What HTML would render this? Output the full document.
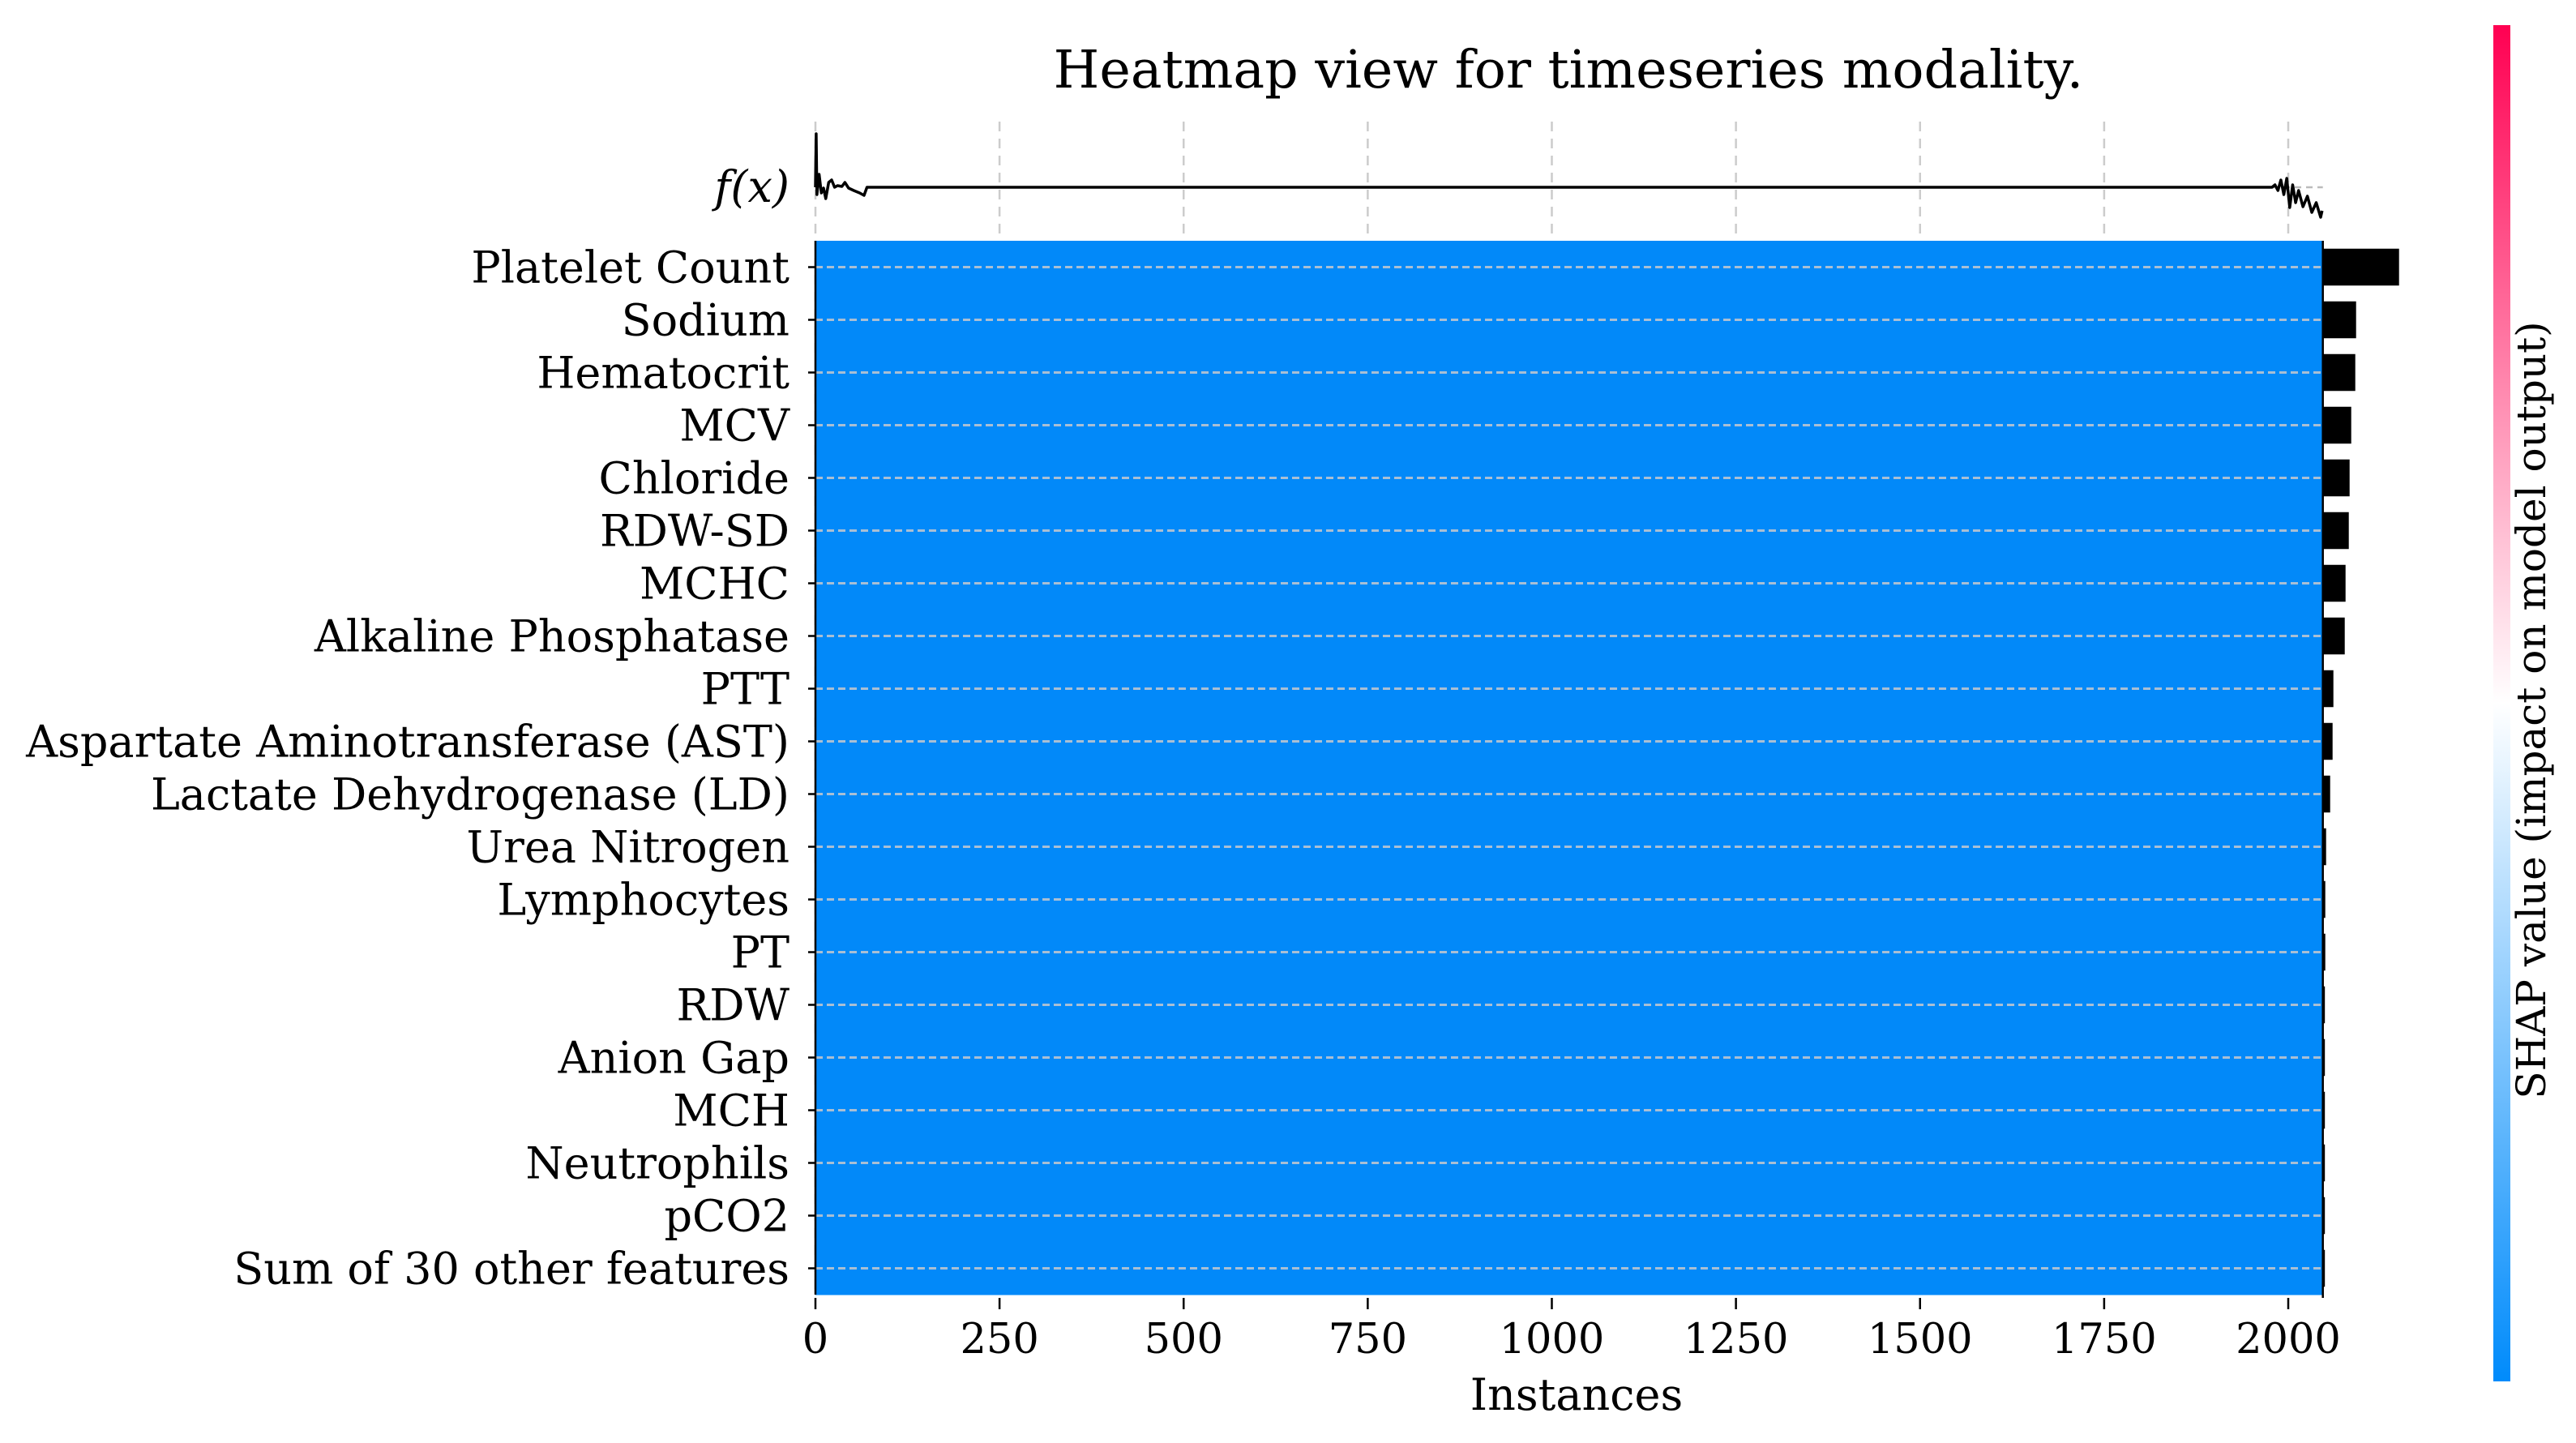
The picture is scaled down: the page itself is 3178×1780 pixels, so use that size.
<!DOCTYPE html>
<html><head><meta charset="utf-8"><style>
html,body{margin:0;padding:0;background:#fff;}
svg{display:block;}
text{font-family:"DejaVu Serif","Liberation Serif",serif;fill:#000;}
</style></head><body>
<svg id="chart" width="3178" height="1780" viewBox="0 0 3178 1780" xmlns="http://www.w3.org/2000/svg">
<defs>
<linearGradient id="cbgrad" x1="0" y1="0" x2="0" y2="1">
<stop offset="0" stop-color="#ff0052"/>
<stop offset="0.5" stop-color="#ffffff"/>
<stop offset="1" stop-color="#008bfb"/>
</linearGradient>
</defs>
<text x="1935" y="108" font-size="65" text-anchor="middle">Heatmap view for timeseries modality.</text>
<g id="grid"></g>
<g id="heat"></g>
<g id="rowgrid"></g>
<g id="fx"></g>
<g id="bars"></g>
<g id="axes"></g>
<rect x="3076" y="31" width="21" height="1673" fill="url(#cbgrad)"/>
<text transform="translate(3140,876) rotate(-90)" font-size="50" text-anchor="middle">SHAP value (impact on model output)</text>
</svg>
<script>
const features = ["Platelet Count","Sodium","Hematocrit","MCV","Chloride","RDW-SD","MCHC","Alkaline Phosphatase","PTT","Aspartate Aminotransferase (AST)","Lactate Dehydrogenase (LD)","Urea Nitrogen","Lymphocytes","PT","RDW","Anion Gap","MCH","Neutrophils","pCO2","Sum of 30 other features"];
const meanAbs = [0.094,0.041,0.040,0.035,0.033,0.032,0.028,0.027,0.013,0.012,0.009,0.004,0.003,0.003,0.0025,0.0025,0.0025,0.0025,0.0025,0.0025];
const heatVals = [0,0,0,0,0,0,0,0,0,0,0,0,0,0,0,0,0,0,0,0];
const xTicks = [0,250,500,750,1000,1250,1500,1750,2000];
const nInstances = 2047;
const fxIdx = [0,1,2,5,8,11,14,18,22,26,30,36,40,45,52,60,66,70,1978,1982,1986,1990,1994,1998,2002,2006,2010,2014,2020,2026,2032,2038,2044,2046];
const fxVal = [0,0.66,-0.09,0.16,-0.07,-0.01,-0.14,0.06,0.09,0,0.02,0.01,0.06,-0.01,-0.04,-0.07,-0.10,0,0,0.03,-0.04,0.09,-0.09,0.11,-0.25,0.03,-0.19,-0.04,-0.24,-0.11,-0.31,-0.19,-0.37,-0.29];

const NS='http://www.w3.org/2000/svg';
const X0=1006, PXI=0.9085, TOP=297, ROW=65, FXB=231, FXS=100, BARS=1000;
const xs = v => X0 + v*PXI;
const rowY = i => TOP + i*ROW;
const fy = v => FXB - v*FXS;
const bottom = TOP + features.length*ROW;
const xR = xs(nInstances);
function mk(tag, attrs, parent){const e=document.createElementNS(NS,tag);for(const k in attrs)e.setAttribute(k,attrs[k]);document.getElementById(parent).appendChild(e);return e;}
function heatColor(v){return v>0?'#ff0052':'#0289f9';}

xTicks.forEach(t=>{
  const l=mk('line',{x1:xs(t),x2:xs(t),y1:150,y2:bottom,stroke:'#cccccc','stroke-width':2.5,'stroke-dasharray':'12,9'},'grid');
  
  
});
features.forEach((f,i)=>{
  const r=mk('rect',{x:X0,y:rowY(i),width:xR-X0,height:ROW+0.5,fill:heatColor(heatVals[i])},'heat');
  
  
  const l=mk('line',{x1:X0,x2:xR,y1:rowY(i)+ROW/2,y2:rowY(i)+ROW/2,stroke:'#a9bfd4','stroke-width':3,'stroke-dasharray':'9,5'},'rowgrid');
  
  
  const t=mk('text',{x:974,y:rowY(i)+ROW/2+19,'font-size':54,'text-anchor':'end'},'axes');
  t.textContent=f;
  
  
  mk('line',{x1:997,x2:X0,y1:rowY(i)+ROW/2,y2:rowY(i)+ROW/2,stroke:'#000','stroke-width':2.5},'axes');
  const b=mk('rect',{x:xR,y:rowY(i)+ROW*0.15,width:meanAbs[i]*BARS,height:ROW*0.7,fill:'#000'},'bars');
  
  
});
const base=mk('line',{x1:xs(1978),x2:xR,y1:fy(0),y2:fy(0),stroke:'#bbbbbb','stroke-width':2.5,'stroke-dasharray':'8,6'},'fx');


const pts=fxIdx.map((d,i)=>xs(d)+','+fy(fxVal[i])).join(' ');
const pl=mk('polyline',{points:pts,fill:'none',stroke:'#000','stroke-width':3.5,'stroke-linejoin':'round'},'fx');


const fl=mk('text',{x:974,y:249,'font-size':54,'text-anchor':'end','font-style':'italic'},'axes');
fl.textContent='f(x)';


mk('line',{x1:X0,x2:X0,y1:TOP,y2:bottom,stroke:'#000','stroke-width':2.5},'axes');
mk('line',{x1:xR,x2:xR,y1:TOP,y2:bottom+4,stroke:'#000','stroke-width':2.5},'axes');
xTicks.forEach(t=>{
  mk('line',{x1:xs(t),x2:xs(t),y1:bottom+4,y2:bottom+18,stroke:'#000','stroke-width':2.5},'axes');
  const tl=mk('text',{x:xs(t),y:1669,'font-size':51,'text-anchor':'middle'},'axes');
  tl.textContent=String(t);
  
  
});
const xl=mk('text',{x:1945,y:1739,'font-size':54,'text-anchor':'middle'},'axes');
xl.textContent='Instances';


</script>
</body></html>
